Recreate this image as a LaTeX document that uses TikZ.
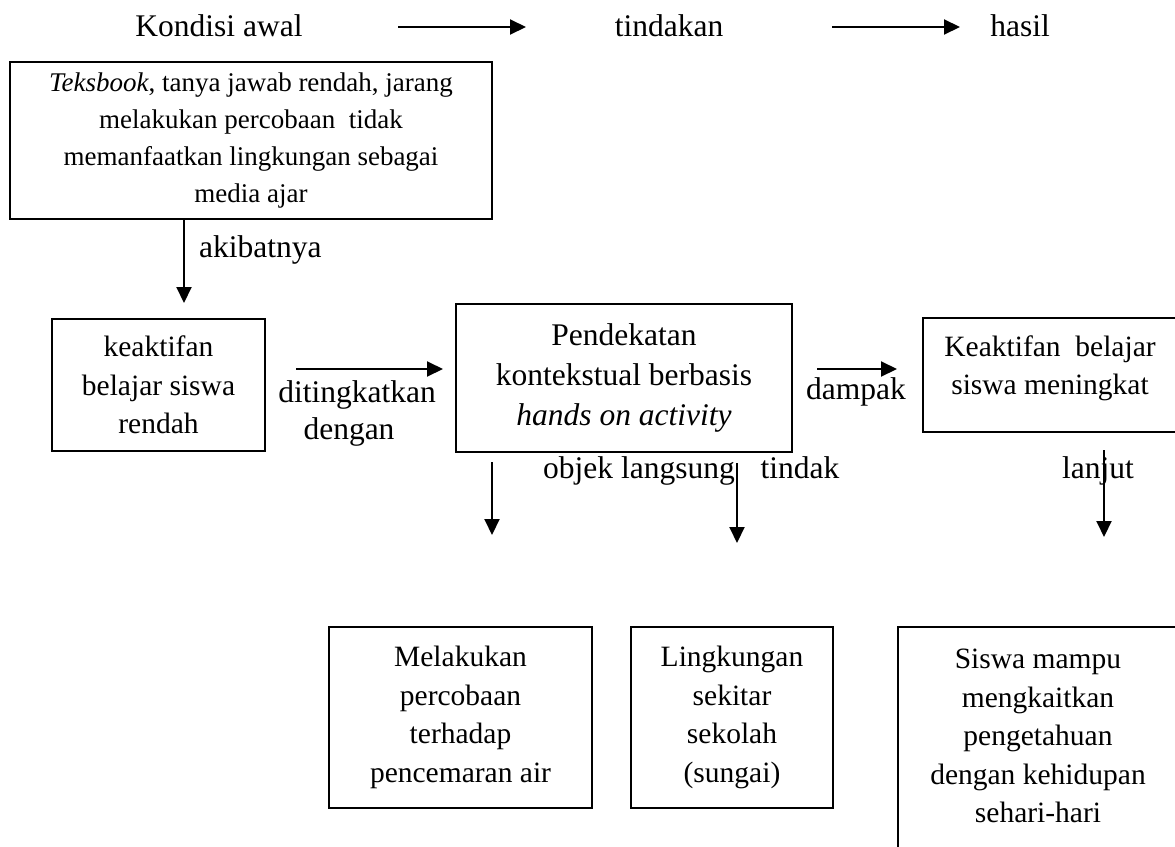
\documentclass[tikz,border=0pt]{standalone}
\usepackage{fontspec}
\setmainfont{Liberation Serif}
\usetikzlibrary{arrows.meta}
\begin{document}
\begin{tikzpicture}[x=1pt,y=-1pt,
  txt/.style={font=\fontsize{31.5}{40}\selectfont, inner sep=0pt, align=center},
  midtxt/.style={font=\fontsize{29.5}{38.5}\selectfont, inner sep=0pt, align=center},
  smalltxt/.style={font=\fontsize{27}{37.3}\selectfont, inner sep=0pt, align=center},
  frame/.style={draw, line width=1.8pt, anchor=center, inner sep=0pt},
  arr/.style={line width=2pt, -{Triangle[length=16pt,width=15pt]}}
]
\useasboundingbox (0,0) rectangle (1175,846);
\clip (0,0) rectangle (1175,846);

% header row
\node[txt, anchor=base] (kondisi) at (219,36) {Kondisi awal};
\node[txt, anchor=base] (tindakan) at (669,36) {tindakan};
\node[txt, anchor=base] (hasil) at (1020,36) {hasil};
\coordinate (h1a) at (398,27); \coordinate (h1b) at (526,27);
\coordinate (h2a) at (832,27); \coordinate (h2b) at (960,27);
\draw[arr] (h1a) -- (h1b);
\draw[arr] (h2a) -- (h2b);

% top box
\node[frame, smalltxt, minimum width=482, minimum height=157] (awal) at (251,140.5)
  {\textit{Teksbook}, tanya jawab rendah, jarang\\melakukan percobaan\ \ tidak\\memanfaatkan lingkungan sebagai\\media ajar};
\coordinate (a1) at (184,219); \coordinate (a2) at (184,303);
\draw[arr] (a1) -- (a2);
\node[txt, anchor=west] (akibat) at (199,250) {akibatnya};

% left box
\node[frame, midtxt, minimum width=213, minimum height=132] (rendah) at (158.5,385)
  {keaktifan\\belajar siswa\\rendah};
\coordinate (d1) at (296,369); \coordinate (d2) at (443,369);
\draw[arr] (d1) -- (d2);
\node[txt] (ditingkat) at (357,395) {ditingkatkan};
\node[txt] (dengan) at (349,432) {dengan};

% center box
\node[frame, txt, minimum width=336, minimum height=148] (pendekatan) at (624,378)
  {Pendekatan\\kontekstual berbasis\\\textit{hands on activity}};
\coordinate (p1) at (817,369); \coordinate (p2) at (897,369);
\draw[arr] (p1) -- (p2);
\node[txt] (dampak) at (856,392) {dampak};

% right box
\node[frame, minimum width=257, minimum height=114] (meningkat) at (1051.5,375) {};
\node[midtxt] (meningkattxt) at (1050,368.5) {Keaktifan\ \ belajar\\siswa meningkat};

% labels under
\node[txt, anchor=base] (objek) at (639,478) {objek langsung};
\node[txt, anchor=base] (tidak) at (800,478) {tindak};
\node[txt, anchor=base] (lanjut) at (1098,478) {lanjut};

\coordinate (v1a) at (492,462); \coordinate (v1b) at (492,535);
\coordinate (v2a) at (737,463); \coordinate (v2b) at (737,543);
\coordinate (v3a) at (1104,450); \coordinate (v3b) at (1104,537);
\draw[arr] (v1a) -- (v1b);
\draw[arr] (v2a) -- (v2b);
\draw[arr] (v3a) -- (v3b);

% bottom boxes
\node[frame, midtxt, minimum width=263, minimum height=181] (percobaan) at (460.5,717.5)
  {Melakukan\\percobaan\\terhadap\\pencemaran air};
\node[frame, midtxt, minimum width=202, minimum height=181] (lingkungan) at (732,717.5)
  {Lingkungan\\sekitar\\sekolah\\(sungai)};
\node[frame, minimum width=280, minimum height=240] (mampu) at (1038,747) {};
\node[midtxt] (mampytxt) at (1038,736) {Siswa mampu\\mengkaitkan\\pengetahuan\\dengan kehidupan\\sehari-hari};
\end{tikzpicture}
\end{document}
